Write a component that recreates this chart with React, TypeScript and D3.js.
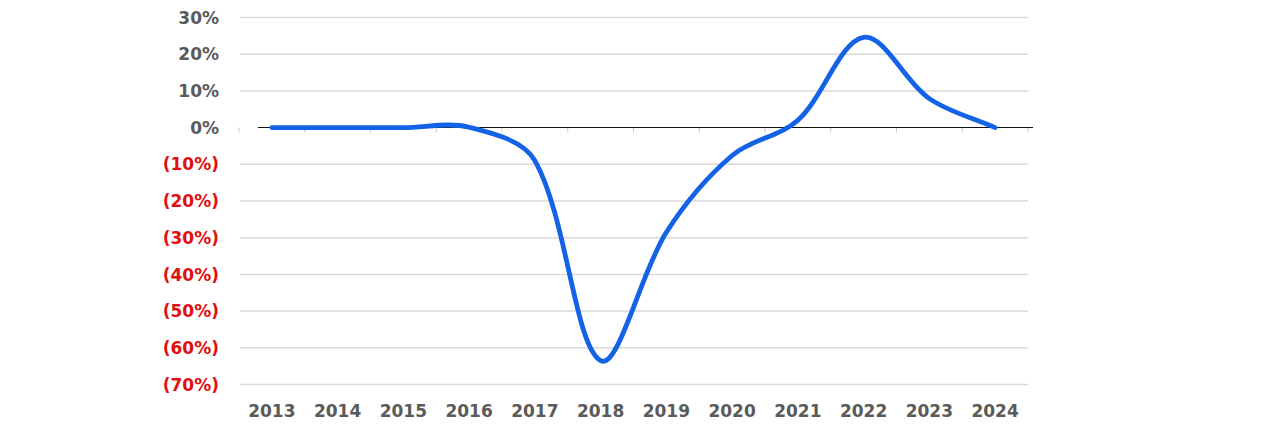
import * as d3 from "d3";
import { useEffect, useRef } from "react";

const width = 1280;
const height = 436;

const years = ["2013", "2014", "2015", "2016", "2017", "2018", "2019", "2020", "2021", "2022", "2023", "2024"];
const growth = [0, 0, 0, 0.001, -0.09, -0.635, -0.285, -0.076, 0.02, 0.246, 0.079, 0];
const yTicks = [0.3, 0.2, 0.1, 0, -0.1, -0.2, -0.3, -0.4, -0.5, -0.6, -0.7];

const fmt = (v: number) => {
  const p = Math.round(Math.abs(v) * 100);
  return v < 0 ? `(${p}%)` : `${p}%`;
};

// spreadsheet-style smoothing: bezier handles scaled by neighbouring segment lengths
function curveSheet(context: any) {
  let pts: [number, number][] = [];
  return {
    areaStart() {},
    areaEnd() {},
    lineStart() {
      pts = [];
    },
    point(x: number, y: number) {
      pts.push([x, y]);
    },
    lineEnd() {
      const n = pts.length;
      if (!n) return;
      context.moveTo(pts[0][0], pts[0][1]);
      const dist = (a: [number, number], b: [number, number]) => Math.hypot(b[0] - a[0], b[1] - a[1]);
      const handles = pts.map((p, i) => {
        const prev = pts[Math.max(i - 1, 0)];
        const next = pts[Math.min(i + 1, n - 1)];
        const tx = next[0] - prev[0];
        const ty = next[1] - prev[1];
        const d1 = i > 0 ? dist(prev, p) : 0;
        const d2 = i < n - 1 ? dist(p, next) : 0;
        const s = d1 + d2 || 1;
        const k1 = i === 0 || i === n - 1 ? 1 / 3 : d1 / s / 3;
        const k2 = i === 0 || i === n - 1 ? 1 / 3 : d2 / s / 3;
        return {
          inX: p[0] - tx * k1,
          inY: p[1] - ty * k1,
          outX: p[0] + tx * k2,
          outY: p[1] + ty * k2,
        };
      });
      for (let i = 1; i < n; i++) {
        const a = handles[i - 1];
        const b = handles[i];
        context.bezierCurveTo(a.outX, a.outY, b.inX, b.inY, pts[i][0], pts[i][1]);
      }
    },
  };
}

const GrowthChart = () => {
  const ref = useRef<SVGSVGElement | null>(null);

  useEffect(() => {
    if (!ref.current) return;
    const svg = d3.select(ref.current);
    svg.selectAll("*").remove();

    const x = d3.scaleBand().domain(years).range([239, 1028]).padding(0);
    const y = d3.scaleLinear().domain([-0.7, 0.3]).range([384.5, 17.5]);
    const cx = (d: string) => (x(d) as number) + x.bandwidth() / 2;
    const y0 = Math.round(y(0)) - 0.5;

    // gridlines
    svg
      .append("g")
      .selectAll("line")
      .data(yTicks.filter((t) => t !== 0))
      .join("line")
      .attr("x1", 240)
      .attr("x2", 1028)
      .attr("y1", (d) => y(d))
      .attr("y2", (d) => y(d))
      .attr("stroke", "#d9d9d9")
      .attr("stroke-width", 1.5);

    // y labels
    svg
      .append("g")
      .selectAll("text")
      .data(yTicks)
      .join("text")
      .attr("x", 219)
      .attr("y", (d) => y(d))
      .attr("dy", "0.36em")
      .attr("text-anchor", "end")
      .attr("font-family", "DejaVu Sans, sans-serif")
      .attr("font-weight", "bold")
      .attr("font-size", 17)
      .attr("fill", (d) => (d < 0 ? "#e01010" : "#5a5a5a"))
      .text((d) => fmt(d));

    // category tick marks on zero line
    const bounds = years.map((d) => x(d) as number).concat([1028]);
    svg
      .append("g")
      .selectAll("line")
      .data(bounds)
      .join("line")
      .attr("x1", (d) => d)
      .attr("x2", (d) => d)
      .attr("y1", y0)
      .attr("y2", y0 + 5)
      .attr("stroke", "#c8c8c8")
      .attr("stroke-width", 1);

    // zero line
    svg
      .append("line")
      .attr("x1", 258)
      .attr("x2", 1033)
      .attr("y1", y0)
      .attr("y2", y0)
      .attr("stroke", "#111")
      .attr("stroke-width", 1);

    // x labels
    svg
      .append("g")
      .selectAll("text")
      .data(years)
      .join("text")
      .attr("x", (d) => cx(d))
      .attr("y", 417)
      .attr("text-anchor", "middle")
      .attr("font-family", "DejaVu Sans, sans-serif")
      .attr("font-weight", "bold")
      .attr("font-size", 17)
      .attr("fill", "#5a5a5a")
      .text((d) => d);

    const line = d3
      .line<number>()
      .x((_, i) => cx(years[i]))
      .y((d) => y(d))
      .curve(curveSheet as any);

    svg
      .append("path")
      .datum(growth)
      .attr("d", line)
      .attr("fill", "none")
      .attr("stroke", "#1463e6")
      .attr("stroke-width", 4.8)
      .attr("stroke-linecap", "round")
      .attr("stroke-linejoin", "round");
  }, []);

  return (
    <svg
      ref={ref}
      width={width}
      height={height}
      style={{ position: "absolute", top: 0, left: 0, background: "#fff" }}
    />
  );
};

export default function App() {
  return <GrowthChart />;
}
